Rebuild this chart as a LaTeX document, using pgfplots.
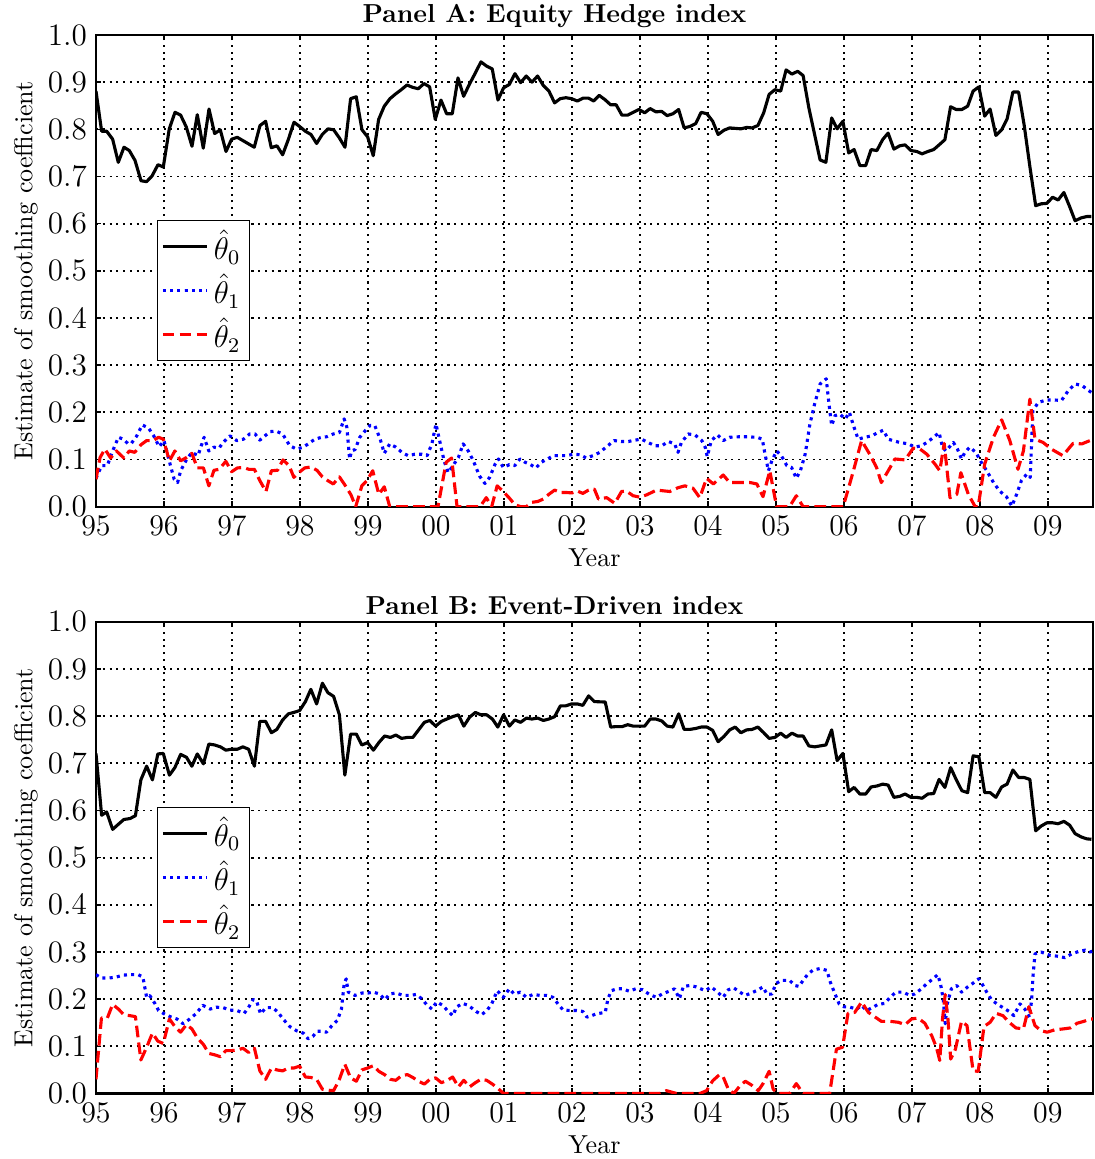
\documentclass[border=0pt]{standalone}
\usepackage{pgfplots}
\pgfplotsset{compat=1.18}
\pgfplotsset{panel/.style={
  scale only axis, width=383.4pt, height=181.4pt,
  xmin=0, xmax=14.66, ymin=0, ymax=1,
  xtick={0,...,14},
  xticklabels={95,96,97,98,99,00,01,02,03,04,05,06,07,08,09},
  ytick={0,0.1,...,1.0},
  yticklabel style={/pgf/number format/.cd,fixed,fixed zerofill,precision=1},
  tick label style={font=\fontsize{11.5}{13}\selectfont},
  grid=major,
  grid style={black, line width=0.7pt, dash pattern=on 0.8pt off 1.8pt},
  axis line style={black, line width=0.8pt},
  tick style={black, line width=0.6pt},
  tick align=inside, major tick length=2pt,
  xlabel={Year}, ylabel={Estimate of smoothing coefficient},
  xlabel style={yshift=2.3pt},
  ylabel style={yshift=-3pt},
  every axis title shift=0pt,
  title style={font=\bfseries, at={(0.46,1)}, anchor=south, inner sep=2.5pt},
  legend cell align=left,
  legend style={at={(0.061,0.608)}, anchor=north west, draw=black, fill=white, font=\large, row sep=0pt, inner sep=1.5pt},
  every axis plot/.append style={line join=round},
}}
\begin{document}
\begin{tikzpicture}
\useasboundingbox (0,0) rectangle (421.1pt,-445.8pt);
\begin{axis}[panel, at={(36.92pt,-13.46pt)}, anchor=north west, title={Panel A: Equity Hedge index}]
\addplot[black, line width=1.2pt] coordinates {
(0,0.881)(0.083,0.796)(0.157,0.796)(0.245,0.779)(0.328,0.730)(0.412,0.762)(0.49,0.755)(0.574,0.734)(0.662,0.691)(0.745,0.689)(0.824,0.701)(0.912,0.725)(0.99,0.720)(1.078,0.801)(1.162,0.836)(1.245,0.830)(1.328,0.805)(1.412,0.764)(1.49,0.831)(1.578,0.760)(1.662,0.843)(1.745,0.791)(1.828,0.799)(1.912,0.753)(1.995,0.779)(2.078,0.783)(2.162,0.776)(2.245,0.769)(2.328,0.762)(2.412,0.808)(2.495,0.817)(2.578,0.761)(2.662,0.765)(2.745,0.746)(2.828,0.778)(2.912,0.815)(2.995,0.806)(3.078,0.796)(3.162,0.789)(3.245,0.770)(3.328,0.789)(3.412,0.801)(3.495,0.799)(3.578,0.782)(3.662,0.762)(3.745,0.865)(3.828,0.869)(3.912,0.799)(3.995,0.784)(4.078,0.744)(4.157,0.821)(4.24,0.849)(4.324,0.865)(4.407,0.875)(4.49,0.884)(4.574,0.894)(4.657,0.889)(4.74,0.886)(4.824,0.897)(4.907,0.890)(4.99,0.821)(5.074,0.862)(5.157,0.833)(5.24,0.833)(5.324,0.909)(5.407,0.870)(5.49,0.895)(5.574,0.918)(5.662,0.943)(5.745,0.934)(5.828,0.928)(5.912,0.862)(5.995,0.888)(6.078,0.895)(6.162,0.918)(6.245,0.899)(6.328,0.913)(6.412,0.900)(6.495,0.913)(6.578,0.893)(6.662,0.881)(6.745,0.856)(6.828,0.865)(6.912,0.867)(6.995,0.865)(7.078,0.860)(7.162,0.866)(7.245,0.866)
(7.32,0.86)(7.40,0.872)(7.485,0.863)(7.569,0.852)(7.65,0.852)(7.735,0.830)(7.82,0.830)(7.90,0.836)(7.985,0.842)(8.07,0.835)(8.15,0.844)(8.235,0.837)(8.32,0.838)(8.40,0.829)(8.485,0.833)(8.569,0.842)(8.65,0.803)(8.735,0.806)(8.82,0.812)(8.90,0.836)(8.985,0.833)(9.07,0.817)(9.15,0.789)(9.235,0.798)(9.32,0.803)(9.40,0.802)(9.485,0.801)(9.569,0.804)(9.65,0.803)(9.735,0.808)(9.82,0.835)(9.90,0.874)(9.985,0.884)(10.07,0.881)(10.15,0.926)(10.235,0.917)(10.32,0.923)(10.40,0.914)(10.485,0.845)(10.569,0.789)(10.65,0.735)(10.735,0.730)(10.82,0.824)(10.90,0.801)(10.985,0.817)(11.07,0.750)(11.15,0.757)(11.235,0.723)(11.32,0.723)(11.40,0.757)(11.485,0.755)(11.569,0.778)(11.65,0.792)(11.735,0.758)(11.82,0.765)(11.90,0.767)(11.985,0.755)(12.07,0.753)(12.15,0.748)(12.235,0.753)(12.32,0.757)(12.40,0.767)(12.485,0.778)(12.569,0.848)(12.65,0.842)(12.735,0.842)(12.82,0.849)(12.90,0.881)(12.985,0.890)(13.07,0.828)(13.15,0.843)(13.235,0.787)(13.32,0.799)(13.40,0.822)(13.485,0.879)(13.569,0.879)(13.65,0.810)(13.735,0.721)(13.82,0.638)(13.90,0.642)(13.985,0.643)(14.07,0.656)(14.15,0.650)(14.235,0.666)(14.32,0.636)(14.40,0.606)(14.485,0.612)(14.57,0.615)(14.64,0.615)};
\addlegendentry{$\hat{\theta}_0$}
\addplot[blue, line width=1.2pt, dash pattern=on 1.2pt off 1.6pt] coordinates {
(0,0.060)(0.083,0.087)(0.167,0.087)(0.245,0.118)(0.33,0.147)(0.40,0.143)(0.475,0.133)(0.52,0.134)(0.6,0.150)(0.68,0.173)(0.77,0.167)(0.85,0.150)(0.93,0.127)(1.0,0.140)(1.09,0.090)(1.15,0.058)(1.2,0.051)(1.245,0.076)(1.33,0.099)(1.41,0.115)(1.5,0.108)(1.59,0.147)(1.66,0.118)(1.735,0.126)(1.81,0.124)(1.87,0.136)(1.97,0.150)(2.07,0.140)(2.17,0.143)(2.26,0.154)(2.34,0.154)(2.41,0.141)(2.485,0.150)(2.56,0.159)(2.65,0.160)(2.745,0.154)(2.85,0.129)(2.95,0.122)(3.05,0.126)(3.15,0.136)(3.22,0.143)(3.32,0.147)(3.39,0.148)(3.49,0.154)(3.58,0.157)(3.65,0.186)(3.69,0.168)(3.73,0.101)(3.76,0.118)(3.81,0.121)(3.88,0.147)(3.96,0.161)(4.03,0.172)(4.1,0.172)(4.18,0.143)(4.24,0.113)(4.32,0.133)(4.41,0.126)(4.5,0.115)(4.59,0.108)(4.69,0.111)(4.79,0.111)(4.87,0.108)(4.94,0.133)(5.0,0.175)(5.06,0.136)(5.12,0.097)(5.18,0.072)(5.25,0.087)(5.33,0.104)(5.4,0.133)(5.475,0.118)(5.55,0.097)(5.64,0.065)(5.72,0.049)(5.79,0.062)(5.87,0.090)(5.92,0.101)(5.99,0.083)(6.08,0.089)(6.16,0.087)(6.235,0.101)(6.31,0.094)(6.38,0.090)(6.47,0.082)(6.55,0.094)(6.64,0.101)(6.73,0.108)(6.82,0.108)(6.92,0.108)(7.02,0.111)(7.12,0.110)(7.21,0.103)(7.31,0.108)
(7.41,0.115)(7.51,0.127)(7.62,0.140)(7.73,0.138)(7.83,0.138)(7.93,0.141)(8.02,0.143)(8.12,0.136)(8.22,0.129)(8.32,0.129)(8.42,0.138)(8.51,0.133)(8.56,0.115)(8.61,0.136)(8.71,0.154)(8.81,0.152)(8.91,0.140)(8.96,0.126)(8.99,0.106)(9.05,0.140)(9.14,0.152)(9.225,0.140)(9.32,0.147)(9.45,0.148)(9.57,0.148)(9.72,0.147)(9.80,0.143)(9.84,0.111)(9.89,0.076)(9.94,0.097)(10.01,0.118)(10.08,0.108)(10.16,0.087)(10.23,0.083)(10.30,0.060)(10.36,0.076)(10.43,0.111)(10.50,0.175)(10.57,0.218)(10.65,0.260)(10.74,0.271)(10.78,0.218)(10.82,0.172)(10.87,0.193)(10.94,0.196)(11.02,0.186)(11.08,0.200)(11.14,0.172)(11.21,0.143)(11.31,0.147)(11.41,0.150)(11.50,0.157)(11.58,0.162)(11.65,0.143)(11.72,0.140)(11.82,0.136)(11.95,0.133)(12.04,0.126)(12.14,0.129)(12.22,0.136)(12.32,0.147)(12.40,0.157)(12.45,0.126)(12.50,0.118)(12.61,0.136)(12.67,0.122)(12.73,0.101)(12.78,0.115)(12.85,0.126)(12.94,0.115)(13.02,0.094)(13.10,0.076)(13.20,0.051)(13.29,0.033)(13.39,0.021)(13.47,0.001)(13.54,0.026)(13.61,0.055)(13.69,0.069)(13.74,0.062)(13.78,0.204)(13.86,0.221)(13.98,0.226)(14.10,0.226)(14.20,0.225)(14.30,0.246)(14.40,0.260)(14.50,0.257)(14.60,0.246)(14.66,0.240)};
\addlegendentry{$\hat{\theta}_1$}
\addplot[red, line width=1.2pt, dash pattern=on 4.5pt off 2pt] coordinates {
(0,0.058)(0.06,0.104)(0.13,0.122)(0.216,0.103)(0.30,0.118)(0.41,0.103)(0.49,0.118)(0.57,0.115)(0.66,0.131)(0.745,0.140)(0.84,0.140)(0.92,0.147)(0.99,0.143)(1.08,0.097)(1.16,0.118)(1.245,0.097)(1.33,0.104)(1.41,0.113)(1.49,0.082)(1.58,0.082)(1.66,0.044)(1.735,0.077)(1.81,0.079)(1.91,0.096)(1.995,0.074)(2.08,0.082)(2.17,0.083)(2.25,0.079)(2.33,0.079)(2.41,0.055)(2.5,0.032)(2.58,0.076)(2.67,0.077)(2.75,0.099)(2.84,0.087)(2.91,0.062)(3.0,0.074)(3.07,0.082)(3.16,0.084)(3.25,0.077)(3.33,0.063)(3.41,0.055)(3.49,0.048)(3.58,0.063)(3.66,0.046)(3.75,0.025)(3.82,0.0)(3.91,0.044)(3.99,0.056)(4.07,0.076)(4.16,0.026)(4.24,0.042)(4.32,0.0)(4.41,0.0)(4.6,0.0)(4.8,0.0)(5.03,0.0)(5.15,0.094)(5.23,0.103)(5.31,0.0)(5.45,0.0)(5.65,0.0)(5.74,0.019)(5.82,0.0)(5.9,0.044)(5.99,0.032)(6.08,0.018)(6.16,0.004)(6.245,0.0)(6.33,0.0)(6.41,0.009)(6.5,0.011)(6.58,0.016)(6.66,0.026)(6.745,0.035)(6.83,0.030)(6.91,0.030)(7.0,0.029)(7.08,0.033)(7.16,0.028)(7.245,0.035)(7.33,0.037)
(7.39,0.016)(7.51,0.019)(7.63,0.007)(7.73,0.032)(7.80,0.033)(7.90,0.023)(8.0,0.020)(8.10,0.025)(8.245,0.035)(8.44,0.032)(8.56,0.040)(8.66,0.044)(8.78,0.039)(8.88,0.019)(8.98,0.060)(9.08,0.048)(9.225,0.067)(9.32,0.051)(9.47,0.051)(9.62,0.051)(9.72,0.048)(9.81,0.021)(9.91,0.076)(10.01,0.0)(10.2,0.0)(10.30,0.023)(10.40,0.0)(10.6,0.0)(10.8,0.0)(10.99,0.0)(11.14,0.076)(11.26,0.140)(11.38,0.111)(11.48,0.083)(11.55,0.051)(11.68,0.083)(11.75,0.101)(11.90,0.099)(12.02,0.124)(12.12,0.122)(12.22,0.111)(12.34,0.090)(12.41,0.076)(12.475,0.134)(12.56,0.019)(12.66,0.026)(12.72,0.072)(12.83,0.026)(12.93,0.0)(12.975,0.0)(13.07,0.090)(13.20,0.147)(13.32,0.184)(13.44,0.140)(13.56,0.079)(13.64,0.118)(13.735,0.228)(13.81,0.143)(13.93,0.136)(14.05,0.122)(14.22,0.108)(14.37,0.134)(14.50,0.133)(14.62,0.140)(14.66,0.138)};
\addlegendentry{$\hat{\theta}_2$}
\end{axis}
\begin{axis}[panel, at={(36.92pt,-239.2pt)}, anchor=north west, title={Panel B: Event-Driven index}]
\addplot[black, line width=1.2pt] coordinates {
(0,0.721)(0.083,0.590)(0.157,0.597)(0.245,0.560)(0.33,0.571)(0.41,0.581)(0.5,0.583)(0.58,0.589)(0.66,0.665)(0.745,0.694)(0.83,0.665)(0.91,0.720)(0.99,0.721)(1.08,0.675)(1.16,0.691)(1.245,0.719)(1.33,0.713)(1.41,0.694)(1.49,0.720)(1.58,0.699)(1.66,0.741)(1.745,0.739)(1.83,0.735)(1.91,0.728)(1.995,0.730)(2.08,0.730)(2.16,0.735)(2.245,0.730)(2.33,0.694)(2.41,0.789)(2.495,0.789)(2.58,0.765)(2.66,0.772)(2.745,0.792)(2.83,0.805)(2.91,0.808)(2.995,0.812)(3.08,0.831)(3.16,0.857)(3.245,0.826)(3.33,0.870)(3.41,0.850)(3.495,0.842)(3.58,0.803)(3.66,0.675)(3.745,0.762)(3.83,0.762)(3.91,0.739)(3.995,0.744)(4.08,0.728)(4.16,0.744)(4.245,0.758)(4.33,0.755)(4.41,0.760)(4.495,0.753)(4.58,0.755)(4.66,0.755)(4.745,0.771)(4.83,0.787)(4.91,0.791)(4.995,0.779)(5.08,0.789)(5.16,0.794)(5.245,0.799)(5.33,0.803)(5.41,0.779)(5.495,0.798)(5.58,0.808)(5.66,0.803)(5.745,0.803)(5.83,0.794)(5.91,0.777)(5.995,0.803)(6.08,0.779)(6.16,0.792)(6.245,0.787)(6.33,0.796)(6.41,0.794)(6.495,0.796)(6.58,0.791)(6.66,0.794)(6.745,0.799)(6.83,0.822)(6.91,0.822)(6.995,0.826)(7.08,0.826)(7.16,0.823)(7.245,0.843)(7.33,0.831)
(7.49,0.830)(7.57,0.777)(7.65,0.778)(7.74,0.778)(7.82,0.782)(7.90,0.779)(7.985,0.779)(8.07,0.779)(8.15,0.794)(8.235,0.794)(8.32,0.790)(8.40,0.779)(8.485,0.777)(8.57,0.805)(8.65,0.772)(8.735,0.772)(8.82,0.774)(8.90,0.777)(8.985,0.777)(9.07,0.770)(9.15,0.746)(9.235,0.757)(9.32,0.771)(9.40,0.777)(9.485,0.765)(9.57,0.771)(9.65,0.772)(9.735,0.777)(9.82,0.765)(9.90,0.753)(9.985,0.755)(10.07,0.764)(10.15,0.755)(10.235,0.764)(10.32,0.758)(10.40,0.758)(10.485,0.737)(10.57,0.735)(10.65,0.737)(10.735,0.739)(10.82,0.771)(10.90,0.706)(10.985,0.721)(11.07,0.640)(11.15,0.649)(11.235,0.635)(11.32,0.635)(11.40,0.650)(11.485,0.652)(11.57,0.656)(11.65,0.654)(11.735,0.628)(11.82,0.630)(11.90,0.635)(11.985,0.628)(12.07,0.628)(12.15,0.626)(12.235,0.635)(12.32,0.636)(12.40,0.666)(12.485,0.649)(12.57,0.691)(12.65,0.666)(12.735,0.642)(12.82,0.638)(12.90,0.716)(12.985,0.714)(13.07,0.638)(13.15,0.638)(13.235,0.628)(13.32,0.650)(13.40,0.656)(13.485,0.686)(13.57,0.670)(13.65,0.670)(13.735,0.666)(13.82,0.557)(13.90,0.567)(13.985,0.574)(14.07,0.574)(14.15,0.572)(14.235,0.577)(14.32,0.569)(14.40,0.551)(14.49,0.544)(14.57,0.540)(14.64,0.539)};
\addlegendentry{$\hat{\theta}_0$}
\addplot[blue, line width=1.2pt, dash pattern=on 1.2pt off 1.6pt] coordinates {
(0,0.252)(0.08,0.245)(0.2,0.245)(0.30,0.247)(0.40,0.251)(0.52,0.252)(0.62,0.252)(0.69,0.247)(0.745,0.204)(0.79,0.208)(0.87,0.190)(0.92,0.176)(0.99,0.170)(1.09,0.163)(1.19,0.158)(1.28,0.148)(1.37,0.157)(1.47,0.169)(1.57,0.187)(1.68,0.179)(1.77,0.183)(1.87,0.182)(1.97,0.177)(2.07,0.176)(2.18,0.170)(2.25,0.184)(2.31,0.199)(2.36,0.197)(2.42,0.169)(2.5,0.182)(2.6,0.182)(2.68,0.172)(2.75,0.158)(2.85,0.142)(2.95,0.133)(3.05,0.128)(3.12,0.116)(3.19,0.121)(3.25,0.132)(3.32,0.132)(3.39,0.130)(3.47,0.144)(3.55,0.155)(3.61,0.179)(3.65,0.233)(3.68,0.243)(3.71,0.215)(3.81,0.208)(3.91,0.213)(4.0,0.213)(4.08,0.215)(4.17,0.211)(4.25,0.199)(4.32,0.211)(4.41,0.213)(4.52,0.208)(4.62,0.208)(4.71,0.210)(4.79,0.201)(4.86,0.189)(4.94,0.179)(5.01,0.194)(5.1,0.187)(5.18,0.174)(5.25,0.165)(5.3,0.183)(5.39,0.191)(5.475,0.187)(5.59,0.174)(5.67,0.167)(5.75,0.176)(5.82,0.190)(5.90,0.218)(5.99,0.204)(6.08,0.222)(6.15,0.211)(6.24,0.215)(6.33,0.204)(6.43,0.210)(6.53,0.208)(6.63,0.208)(6.72,0.204)(6.80,0.189)(6.87,0.177)(6.97,0.176)(7.07,0.176)(7.16,0.174)(7.22,0.162)(7.29,0.165)
(7.36,0.169)(7.49,0.172)(7.53,0.201)(7.58,0.218)(7.66,0.222)(7.745,0.222)(7.84,0.217)(7.94,0.222)(8.04,0.220)(8.14,0.210)(8.24,0.204)(8.33,0.211)(8.43,0.217)(8.51,0.222)(8.58,0.201)(8.64,0.227)(8.735,0.229)(8.83,0.226)(8.96,0.218)(9.05,0.226)(9.14,0.215)(9.225,0.204)(9.30,0.220)(9.38,0.224)(9.47,0.215)(9.545,0.208)(9.64,0.213)(9.74,0.220)(9.81,0.226)(9.87,0.210)(9.94,0.211)(10.0,0.233)(10.08,0.240)(10.2,0.240)(10.28,0.229)(10.34,0.227)(10.40,0.240)(10.475,0.254)(10.55,0.262)(10.65,0.265)(10.75,0.261)(10.80,0.236)(10.87,0.211)(10.93,0.190)(11.0,0.184)(11.09,0.183)(11.19,0.179)(11.26,0.187)(11.33,0.176)(11.42,0.182)(11.50,0.189)(11.60,0.191)(11.68,0.204)(11.765,0.215)(11.87,0.215)(11.97,0.208)(12.04,0.211)(12.14,0.222)(12.22,0.233)(12.31,0.243)(12.38,0.252)(12.42,0.233)(12.46,0.201)(12.49,0.148)(12.52,0.190)(12.58,0.222)(12.66,0.229)(12.73,0.215)(12.82,0.226)(12.90,0.234)(12.98,0.243)(13.03,0.233)(13.10,0.215)(13.17,0.199)(13.25,0.190)(13.34,0.182)(13.43,0.174)(13.50,0.165)(13.59,0.190)(13.66,0.179)(13.73,0.162)(13.76,0.197)(13.78,0.247)(13.81,0.296)(13.90,0.300)(14.03,0.293)(14.15,0.291)(14.25,0.288)(14.35,0.296)(14.45,0.301)(14.55,0.304)(14.62,0.300)(14.66,0.302)};
\addlegendentry{$\hat{\theta}_1$}
\addplot[red, line width=1.2pt, dash pattern=on 4.5pt off 2pt] coordinates {
(0,0.030)(0.08,0.160)(0.167,0.160)(0.245,0.189)(0.33,0.179)(0.41,0.167)(0.5,0.165)(0.58,0.163)(0.66,0.071)(0.745,0.098)(0.83,0.128)(0.91,0.111)(0.99,0.106)(1.08,0.158)(1.16,0.142)(1.245,0.130)(1.33,0.146)(1.41,0.137)(1.49,0.118)(1.58,0.104)(1.66,0.085)(1.745,0.082)(1.83,0.078)(1.91,0.091)(1.995,0.091)(2.08,0.092)(2.16,0.096)(2.245,0.087)(2.33,0.096)(2.41,0.048)(2.495,0.030)(2.58,0.054)(2.66,0.050)(2.745,0.048)(2.83,0.054)(2.91,0.054)(2.995,0.058)(3.08,0.035)(3.16,0.034)(3.245,0.030)(3.33,0.009)(3.41,0.007)(3.495,0.006)(3.58,0.030)(3.66,0.062)(3.745,0.033)(3.83,0.026)(3.91,0.050)(3.995,0.054)(4.08,0.059)(4.16,0.047)(4.245,0.040)(4.33,0.030)(4.41,0.028)(4.495,0.038)(4.58,0.040)(4.66,0.034)(4.745,0.026)(4.83,0.020)(4.91,0.030)(4.995,0.033)(5.08,0.023)(5.16,0.027)(5.245,0.035)(5.33,0.014)(5.41,0.028)(5.495,0.014)(5.58,0.023)(5.66,0.030)(5.745,0.028)(5.83,0.020)(5.91,0.011)(5.995,0.0)(6.5,0.0)(7.0,0.0)(7.5,0.0)(8.0,0.0)(8.29,0.0)(8.39,0.006)(8.54,0.0)(8.88,0.0)(8.98,0.006)(9.07,0.027)(9.17,0.040)(9.225,0.035)(9.30,0.009)(9.38,0.0)(9.47,0.016)(9.55,0.026)(9.64,0.018)(9.74,0.006)(9.81,0.021)(9.90,0.047)(9.96,0.009)(10.03,0.0)(10.2,0.0)(10.30,0.021)(10.40,0.0)(10.6,0.0)(10.79,0.0)(10.89,0.094)(10.98,0.098)(11.06,0.170)(11.16,0.172)(11.26,0.194)(11.36,0.172)(11.46,0.162)(11.55,0.153)(11.68,0.153)(11.80,0.151)(11.90,0.146)(11.995,0.158)(12.09,0.160)(12.19,0.149)(12.29,0.123)(12.36,0.098)(12.41,0.070)(12.45,0.158)(12.49,0.210)(12.53,0.158)(12.57,0.073)(12.64,0.094)(12.73,0.153)(12.81,0.144)(12.90,0.048)(12.975,0.047)(13.06,0.142)(13.15,0.151)(13.24,0.170)(13.34,0.165)(13.43,0.151)(13.53,0.139)(13.64,0.137)(13.72,0.184)(13.81,0.144)(13.90,0.133)(13.99,0.130)(14.10,0.135)(14.23,0.137)(14.33,0.139)(14.43,0.149)(14.53,0.153)(14.62,0.158)(14.66,0.158)};
\addlegendentry{$\hat{\theta}_2$}
\end{axis}
\end{tikzpicture}
\end{document}
